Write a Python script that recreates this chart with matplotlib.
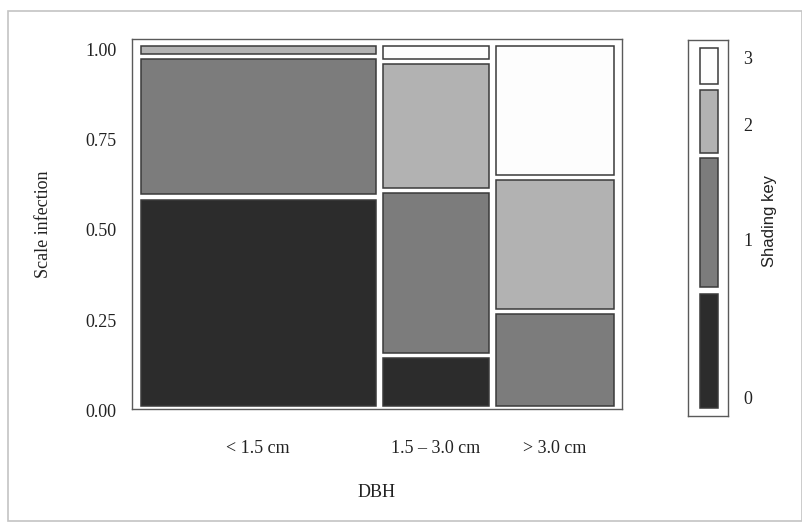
import matplotlib
matplotlib.use("Agg")
import matplotlib.pyplot as plt
from matplotlib.patches import Rectangle
import matplotlib.transforms as mtransforms

# ---- data ----
categories = ['< 1.5 cm', '1.5 \u2013 3.0 cm', '> 3.0 cm']
col_share = [0.511, 0.231, 0.258]          # column widths (share of trees per DBH class)
level0 = [0.590, 0.138, 0.000]             # proportion with scale infection 0
level1 = [0.387, 0.466, 0.262]             # infection 1
level2 = [0.023, 0.358, 0.368]             # infection 2
level3 = [0.000, 0.038, 0.370]             # infection 3
levels = [level0, level1, level2, level3]
level_names = ['0', '1', '2', '3']
level_colors = ['#2c2c2c', '#7c7c7c', '#b2b2b2', '#fdfdfd']
y_ticks = [0.0, 0.25, 0.5, 0.75, 1.0]
y_ticklabels = ['0.00', '0.25', '0.50', '0.75', '1.00']

# shading key segments (fraction of key height) and label positions
key_bounds = [(0.021, 0.324), (0.343, 0.686), (0.699, 0.867), (0.883, 0.979)]
key_label_pos = [0.043, 0.463, 0.769, 0.949]

serif = ['Liberation Serif', 'DejaVu Serif']
sans = ['Liberation Sans', 'DejaVu Sans']

fig = plt.figure(figsize=(8.03, 5.23), dpi=100)
fig.patch.set_facecolor('white')

# outer figure border
fig.patches.append(Rectangle((8 / 803, 1 - 521 / 523), 794 / 803, 510 / 523,
                             transform=fig.transFigure, fill=False,
                             edgecolor='#c4c4c4', linewidth=1.2))

ax = fig.add_axes([132 / 803, 1 - 409 / 523, 490 / 803, 370 / 523])
ax.set_xlim(-0.019, 1.0169)
ax.set_ylim(-0.0083, 1.0194)

gap_x = 0.0148
gap_y = 0.0139
avail_x = 1 - gap_x * (len(categories) - 1)
x = 0.0
centers = []
for ci in range(len(categories)):
    w = col_share[ci] * avail_x
    vals = [lv[ci] for lv in levels]
    nz = [v for v in vals if v > 0]
    avail_y = 1 - gap_y * (len(nz) - 1)
    y = 0.0
    for li, v in enumerate(vals):
        if v <= 0:
            continue
        h = v * avail_y
        ax.add_patch(Rectangle((x, y), w, h, facecolor=level_colors[li],
                               edgecolor='#3a3a3a', linewidth=1.1))
        y += h + gap_y
    centers.append(x + w / 2)
    x += w + gap_x

for s in ax.spines.values():
    s.set_color('#5a5a5a')
    s.set_linewidth(1.0)

ax.set_xticks(centers)
ax.set_xticklabels(categories, family=serif, fontsize=13)
ax.set_yticks(y_ticks)
ax.set_yticklabels(y_ticklabels, family=serif, fontsize=13)
ax.tick_params(axis='both', length=0, colors='#222222')
ax.tick_params(axis='x', pad=22)
ax.tick_params(axis='y', pad=11)
off = mtransforms.ScaledTranslation(0, -4 / 100, fig.dpi_scale_trans)
for lab in ax.get_yticklabels():
    lab.set_transform(lab.get_transform() + off)

ax.set_xlabel('DBH', family=serif, fontsize=13, labelpad=20, color='#222222')
ax.set_ylabel('Scale infection', family=serif, fontsize=13, labelpad=24, color='#222222')

# ---- shading key ----
kax = fig.add_axes([688 / 803, 1 - 416 / 523, 40 / 803, 376 / 523])
kax.set_xlim(0, 1)
kax.set_ylim(0, 1)
kax.set_xticks([])
kax.set_yticks([])
for s in kax.spines.values():
    s.set_color('#5a5a5a')
    s.set_linewidth(1.0)
for (b0, b1), c in zip(key_bounds, level_colors):
    kax.add_patch(Rectangle((0.3, b0), 0.45, b1 - b0, facecolor=c,
                            edgecolor='#3a3a3a', linewidth=1.1))
for name, p in zip(level_names, key_label_pos):
    kax.text(1.375, p, name, transform=kax.transAxes, ha='left', va='center',
             family=serif, fontsize=13, color='#222222', clip_on=False)
kax.text(2.05, 0.519, 'Shading key', transform=kax.transAxes, rotation=90,
         ha='center', va='center', family=sans, fontsize=12, color='#222222',
         clip_on=False)

fig.savefig('out.png', dpi=100)
